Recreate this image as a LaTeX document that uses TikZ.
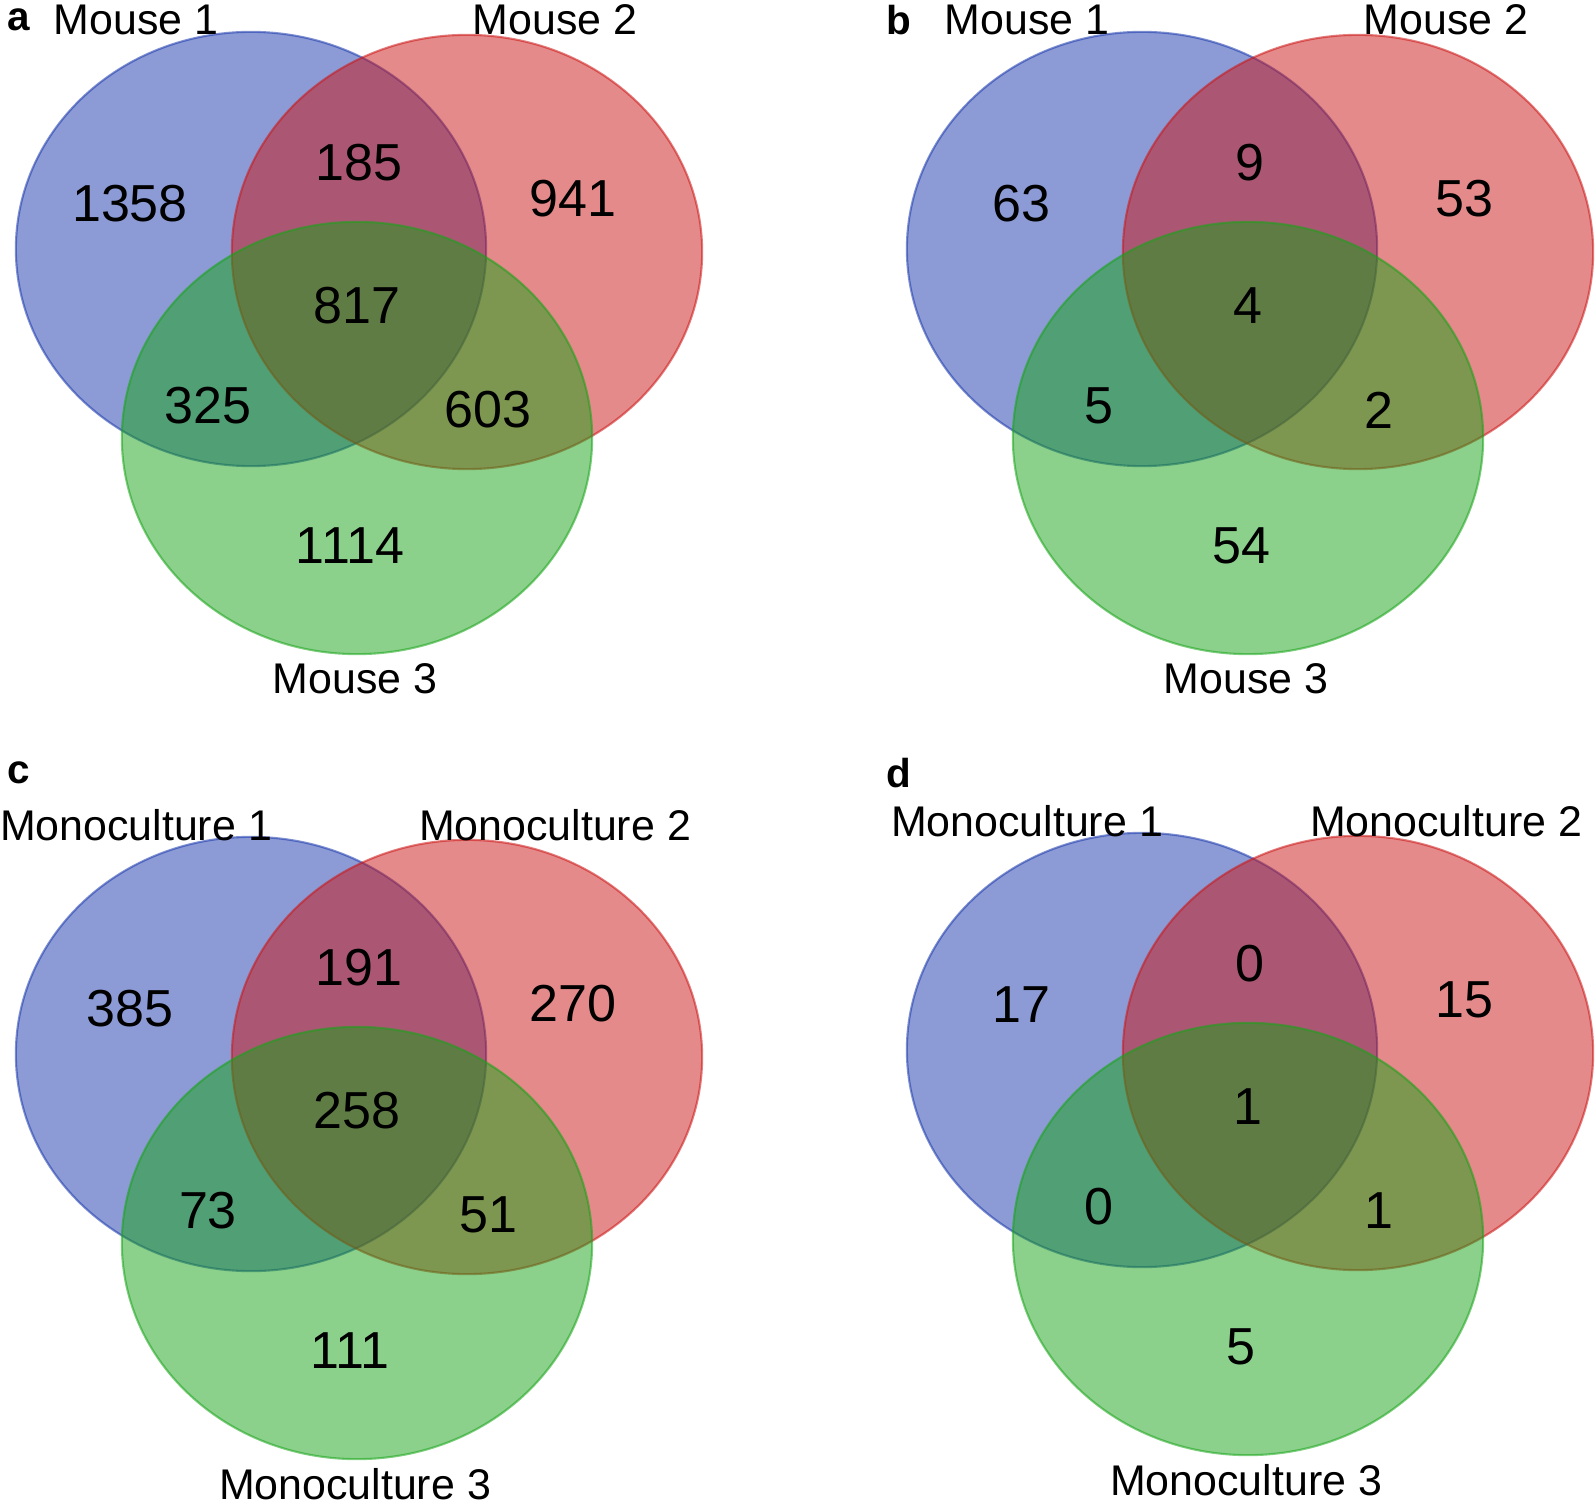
\documentclass[tikz,border=0pt]{standalone}
\usepackage{fontspec}
\setmainfont{Liberation Sans}
\usetikzlibrary{positioning}
\definecolor{setblue}{RGB}{25,55,171}
\definecolor{setred}{RGB}{203,21,21}
\definecolor{setgreen}{RGB}{23,163,23}
\tikzset{every node/.style={inner sep=0pt},
  setfill/.style={fill=#1,fill opacity=.5,draw=#1,draw opacity=.55,line width=.6pt},
  count/.style={font=\fontsize{14.8}{17}\selectfont},
  setname/.style={font=\fontsize{12.2}{14}\selectfont},
  paneltag/.style={font=\fontsize{11.5}{13}\selectfont\bfseries}}

\begin{document}
\begin{tikzpicture}[x=0.01cm,y=-0.01cm]
\useasboundingbox (0,0) rectangle (1595,1504);
\foreach \dx/\dy/\grp/\tg/\tx/\ty/\na/\nab/\nb/\nabc/\nac/\nbc/\nc in {
  0/0/Mouse/a/19/20/1358/185/941/817/325/603/1114,
  891/0/Mouse/b/8/20/63/9/53/4/5/2/54,
  0/805/Monoculture/c/19/-32/385/191/270/258/73/51/111,
  891/801/Monoculture/d/8/-28/17/0/15/1/0/1/5}{
\begin{scope}[shift={(\dx,\dy)}]
\path[setfill=setblue](251,249)ellipse[x radius=2.35cm,y radius=2.17cm];
\path[setfill=setred](467,252)ellipse[x radius=2.35cm,y radius=2.17cm];
\path[setfill=setgreen](357,438)ellipse[x radius=2.35cm,y radius=2.16cm];
\node[paneltag](\tg)at(\tx,\ty){\tg};
\node[setname](\tg-one)at(136,20){\grp\ 1};\node[setname](\tg-two)at(555,20){\grp\ 2};\node[setname](\tg-three)at(355,679){\grp\ 3};
\node[count](\tg-a)at(130,204){\na};\node[count](\tg-ab)at(359,163){\nab};\node[count](\tg-b)at(573,199){\nb};
\node[count](\tg-abc)at(357,306){\nabc};\node[count](\tg-ac)at(208,406){\nac};\node[count](\tg-bc)at(488,410){\nbc};
\node[count](\tg-c)at(350,546){\nc};
\end{scope}}
\end{tikzpicture}
\end{document}
